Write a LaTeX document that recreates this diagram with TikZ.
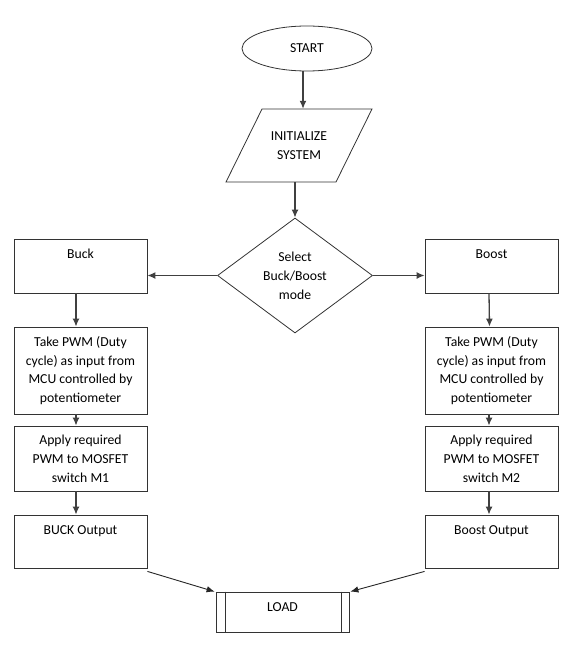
\documentclass[tikz,border=0pt]{standalone}
\usepackage{fontspec}
\setmainfont{Carlito}
\usetikzlibrary{shapes.geometric,arrows.meta}
\begin{document}
\begin{tikzpicture}[x=1pt,y=-1pt,
  every node/.style={font=\fontsize{13.7}{18.8}\selectfont, text=black},
  shp/.style={draw=black!80, line width=0.8pt, inner sep=0pt},
  box/.style={shp, rectangle, minimum width=133pt, align=center},
  lbl/.style={anchor=base, yshift=-19.5pt, inner sep=0pt},
  arr/.style={draw=black!75, line width=1.3pt, -{Latex[length=8pt,width=7pt]}},
  thinarr/.style={draw=black!85, line width=0.9pt, -{Latex[length=8pt,width=6.5pt]}}]
\useasboundingbox (0,0) rectangle (576,666);
% start
\node[shp, ellipse, minimum width=130pt, minimum height=45pt] (start) at (307,48.5) {START};
% initialize (parallelogram)
\node[align=center, inner sep=0pt, minimum width=110pt, minimum height=73pt] (init) at (299,145.5) {INITIALIZE\\SYSTEM};
\draw[shp] (262,109) -- (372,109) -- (336,182) -- (226,182) -- cycle;
% decision
\node[shp, diamond, minimum width=155pt, minimum height=115pt, align=center] (sel) at (295,275.5) {Select\\Buck/Boost\\mode};
% left column
\node[box, minimum height=54pt, label={[lbl]north:Buck}] (buck) at (80.5,266) {};
\node[box, minimum height=87pt] (takeL) at (80.5,370.5) {Take PWM (Duty\\cycle) as input from\\MCU controlled by\\potentiometer};
\node[box, minimum height=65pt] (applyL) at (80.5,458.5) {Apply required\\PWM to MOSFET\\switch M1};
\node[box, minimum height=53pt, label={[lbl]north:BUCK Output}] (outL) at (80.5,541.5) {};
% right column
\node[box, minimum height=54pt, label={[lbl]north:Boost}] (boost) at (491.5,266) {};
\node[box, minimum height=87pt] (takeR) at (491.5,370.5) {Take PWM (Duty\\cycle) as input from\\MCU controlled by\\potentiometer};
\node[box, minimum height=65pt] (applyR) at (491.5,458.5) {Apply required\\PWM to MOSFET\\switch M2};
\node[box, minimum height=53pt, label={[lbl]north:Boost Output}] (outR) at (491.5,541.5) {};
% load
\node[shp, rectangle, minimum width=133pt, minimum height=40pt, label={[lbl]north:LOAD}] (load) at (282.5,612) {};
\draw[shp] ([xshift=10pt]load.north west) -- ([xshift=10pt]load.south west);
\draw[shp] ([xshift=-8pt]load.north east) -- ([xshift=-8pt]load.south east);
% connectors
\draw[arr] ([xshift=-4pt]start.south) -- ([xshift=-4pt]start.south |- init.north);
\draw[arr] ([xshift=-4pt]init.south) -- ([xshift=-4pt]init.south |- sel.north);
\draw[arr] (sel.west) -- (sel.west -| buck.east);
\draw[arr] (sel.east) -- (sel.east -| boost.west);
\draw[arr] ([xshift=-4.5pt]buck.south) -- ([xshift=-4.5pt]takeL.north);
\draw[arr] ([xshift=-4.5pt]takeL.south) -- ([xshift=-4.5pt]applyL.north);
\draw[arr] ([xshift=-4.5pt]applyL.south) -- ([xshift=-4.5pt]outL.north);
\draw[arr] ([xshift=-2.5pt]boost.south) -- ([xshift=-2pt]takeR.north);
\draw[arr] ([xshift=-2.5pt]takeR.south) -- ([xshift=-2.5pt]applyR.north);
\draw[arr] ([xshift=-2.5pt]applyR.south) -- ([xshift=-2.5pt]outR.north);
\draw[thinarr] ([yshift=-3pt]outL.south east) -- ([xshift=-1pt]load.north west);
\draw[thinarr] ([yshift=-3pt]outR.south west) -- ([xshift=1pt]load.north east);
\end{tikzpicture}
\end{document}
